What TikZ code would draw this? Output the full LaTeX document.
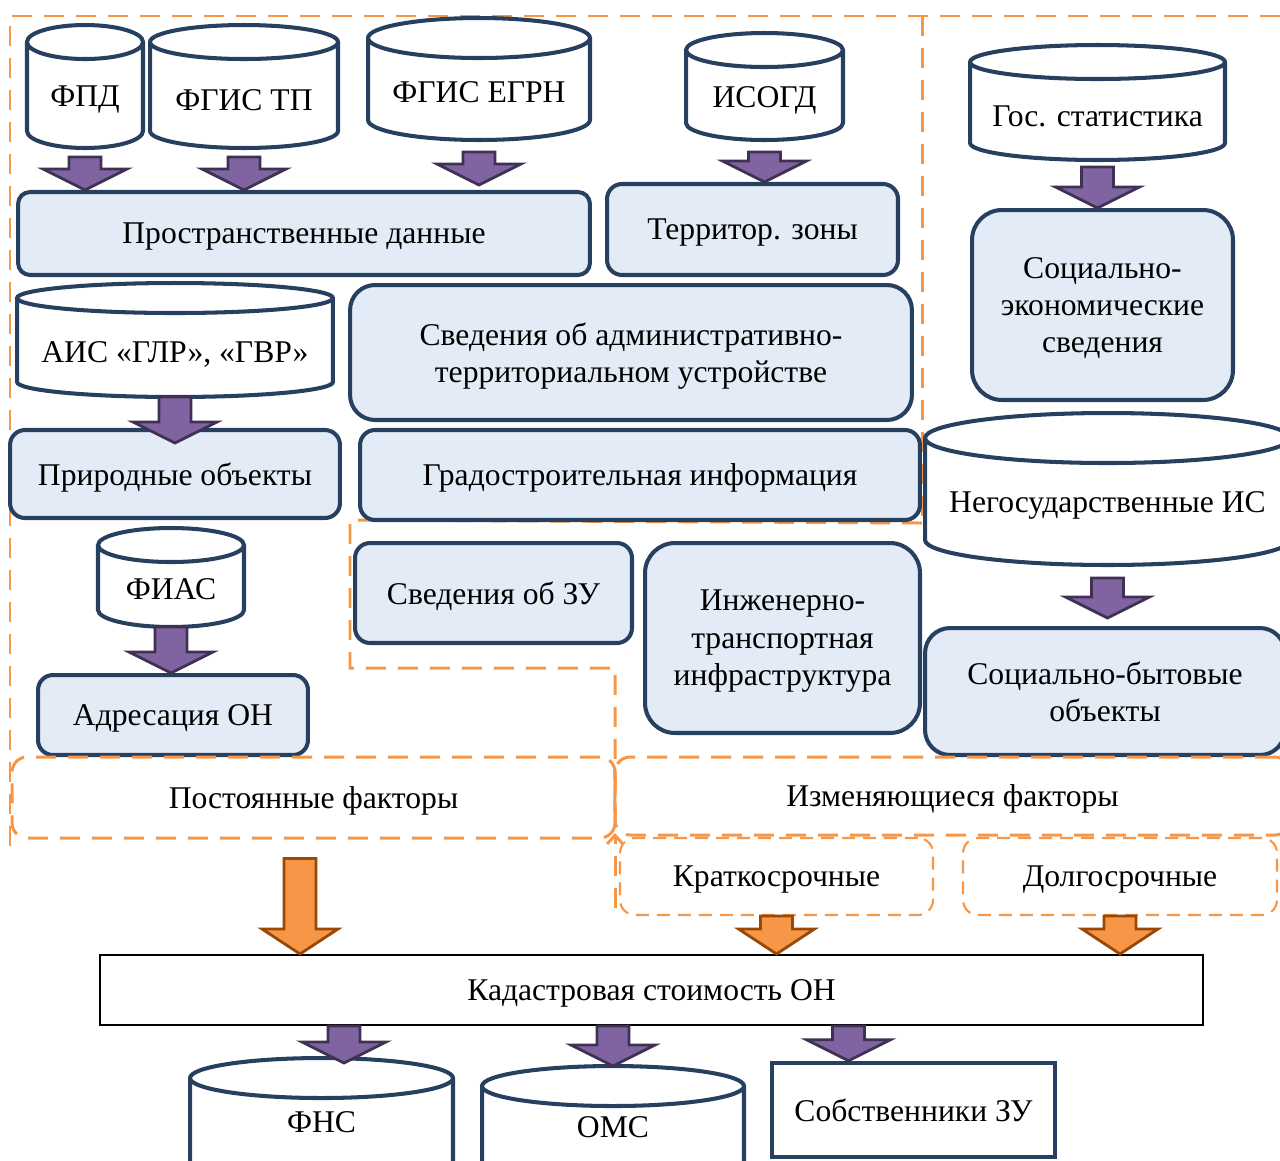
\documentclass[tikz,border=0pt]{standalone}
\usepackage{fontspec}
\setmainfont{Liberation Serif}
\usepackage{tikz}
\usetikzlibrary{arrows.meta,calc}
\definecolor{Navy}{HTML}{27405F}
\definecolor{PaleBlue}{HTML}{E2EBF6}
\definecolor{Amber}{HTML}{F79646}
\definecolor{Rust}{HTML}{984807}
\definecolor{Violet}{HTML}{8064A2}
\definecolor{Plum}{HTML}{3F3151}

\newcommand{\dbase}[8]{%
  \node[dbbox, minimum width=#4, minimum height=#5] (#1) at (#2,#3) {};
  \draw[dbline] ([yshift=-#6]#1.north west) -- ([yshift=#6]#1.south west)
    arc[start angle=180, end angle=360, x radius=#4/2, y radius=#6]
    -- ([yshift=-#6]#1.north east)
    arc[start angle=0, end angle=180, x radius=#4/2, y radius=#6]
    arc[start angle=180, end angle=360, x radius=#4/2, y radius=#6];
  \node[dbtext] (#1-text) at (#2,#7) {#8};
}

\begin{document}
\begin{tikzpicture}[
  x=0.02cm, y=-0.02cm,
  every node/.style={font=\fontsize{18}{21.3}\selectfont},
  infobox/.style={
    draw=Navy,
    line width=2.3pt,
    fill=PaleBlue,
    rounded corners=0.3cm,
    align=center,
    inner sep=0pt,
    text depth=-1.5pt
  },
  factor/.style={
    draw=Amber,
    line width=1.7pt,
    dash pattern=on 0.4cm off 0.24cm,
    rounded corners=0.3cm,
    align=center,
    inner sep=0pt,
    text depth=-1.5pt
  },
  term/.style={
    factor,
    line width=1.2pt,
    dash pattern=on 0.26cm off 0.16cm
  },
  frame/.style={draw=Amber, line width=1.7pt, dash pattern=on 0.4cm off 0.24cm},
  result/.style={draw=black, line width=1.2pt, inner sep=0pt, text depth=-1.5pt},
  owner/.style={draw=Navy, line width=2.6pt, inner sep=0pt, text depth=0pt},
  dbbox/.style={inner sep=0pt, outer sep=0pt},
  dbline/.style={draw=Navy, line width=2.3pt},
  dbtext/.style={inner sep=0pt},
  fatarrow/.style 2 args={
    line width=1.6pt,
    line join=miter,
    to path={let \p1=(\tikztostart), \p2=(\tikztotarget) in
      (\x1-0.32cm,\y1) -- (\x1-0.32cm,\y2+#2) -- (\x1-#1,\y2+#2) -- (\x1,\y2)
      -- (\x1+#1,\y2+#2) -- (\x1+0.32cm,\y2+#2) -- (\x1+0.32cm,\y1) -- cycle}
  },
  purplearrow/.style={fatarrow={0.84cm}{0.42cm}, draw=Plum, fill=Violet},
  orangearrow/.style={fatarrow={0.76cm}{0.5cm}, draw=Rust, fill=Amber}
]
  \useasboundingbox (0,0) rectangle (1280,1160);

  \draw[frame] (1280,16) -- (10,16) -- (10,855);
  \draw[frame] (922,16) -- (922,525);
  \draw[frame] (922,523) -- (350,520) -- (350,668) -- (615,668) -- (615,833);
  \draw[frame, -{Straight Barb[length=5pt,width=9pt]}] (615,908) -- (615,833);

  \dbase{fpd}{85}{86.5}{2.32cm}{2.46cm}{0.34cm}{100}{ФПД}
  \dbase{fgistp}{244}{86.5}{3.76cm}{2.46cm}{0.34cm}{100}{ФГИС ТП}
  \dbase{egrn}{479}{79}{4.44cm}{2.44cm}{0.4cm}{92}{ФГИС ЕГРН}
  \dbase{isogd}{764.5}{86.5}{3.14cm}{2.14cm}{0.34cm}{100}{ИСОГД}
  \dbase{gosstat}{1097.5}{102.5}{5.1cm}{2.3cm}{0.34cm}{116}{Гос. статистика}
  \dbase{ais}{175}{340}{6.32cm}{2.28cm}{0.3cm}{354}{АИС «ГЛР», «ГВР»}
  \dbase{fias}{171}{577.5}{2.92cm}{1.98cm}{0.34cm}{589}{ФИАС}
  \dbase{nongov}{1107.5}{489}{7.3cm}{3.04cm}{0.5cm}{505}{Негосударственные ИС}
  \dbase{fns}{321.5}{1128}{5.26cm}{2.8cm}{0.4cm}{1122}{ФНС}
  \dbase{oms}{613}{1136}{5.24cm}{2.8cm}{0.4cm}{1127}{ОМС}

  \node[infobox, minimum width=11.44cm, minimum height=1.66cm, rounded corners=0.24cm] (spatial) at (304,233.5) {Пространственные данные};
  \node[infobox, minimum width=5.82cm, minimum height=1.82cm] (zones) at (752.5,229.5) {Территор. зоны};
  \node[infobox, minimum width=11.24cm, minimum height=2.7cm, rounded corners=0.5cm] (admin) at (631,352.5) {Сведения об административно-\\территориальном устройстве};
  \node[infobox, minimum width=6.6cm, minimum height=1.76cm] (nature) at (175,474) {Природные объекты};
  \node[infobox, minimum width=11.2cm, minimum height=1.8cm] (urban) at (640,475) {Градостроительная информация};
  \node[infobox, minimum width=5.22cm, minimum height=3.8cm, rounded corners=0.6cm] (socecon) at (1102.5,305) {Социально-\\экономические\\сведения};
  \node[infobox, minimum width=5.54cm, minimum height=2cm] (landinfo) at (493.5,593) {Сведения об ЗУ};
  \node[infobox, minimum width=5.5cm, minimum height=3.8cm, rounded corners=0.6cm] (infra) at (782.5,638) {Инженерно-\\транспортная\\инфраструктура};
  \node[infobox, minimum width=7.2cm, minimum height=2.54cm, rounded corners=0.5cm] (social) at (1105,691.5) {Социально-бытовые\\объекты};
  \node[infobox, minimum width=5.4cm, minimum height=1.6cm] (address) at (173,715) {Адресация ОН};

  \node[factor, minimum width=12.06cm, minimum height=1.62cm] (const) at (313.5,797.5) {Постоянные факторы};
  \node[factor, minimum width=13.5cm, minimum height=1.56cm] (var) at (952.5,796) {Изменяющиеся факторы};
  \node[term, minimum width=6.26cm, minimum height=1.54cm] (short) at (776.5,876.5) {Краткосрочные};
  \node[term, minimum width=6.28cm, minimum height=1.54cm] (long) at (1120,876.5) {Долгосрочные};

  \node[result, minimum width=22.06cm, minimum height=1.4cm] (cadastre) at (651.5,990) {Кадастровая стоимость ОН};
  \node[owner, minimum width=5.66cm, minimum height=1.88cm] (owners) at (913.5,1110) {Собственники ЗУ};

  \draw[purplearrow] ([yshift=-0.18cm]fpd.south) to (fpd.south |- spatial.north);
  \draw[purplearrow] ([yshift=-0.18cm]fgistp.south) to (fgistp.south |- spatial.north);
  \draw[purplearrow] ([yshift=-0.24cm]egrn.south) to ($(egrn.south |- spatial.north)+(0,0.1cm)$);
  \draw[purplearrow] ([yshift=-0.24cm]isogd.south) to (isogd.south |- zones.north);
  \draw[purplearrow] ([yshift=-0.14cm]gosstat.south) to (gosstat.south |- socecon.north);
  \draw[purplearrow] (ais.south) to ($(ais.south |- nature.north)+(0,-0.3cm)$);
  \draw[purplearrow] (fias.south) to (fias.south |- address.north);
  \draw[purplearrow] ([yshift=-0.26cm]nongov.south) to ($(nongov.south |- social.north)+(0,0.16cm)$);
  \draw[purplearrow] ($(cadastre.south -| fns.north)+(0.45cm,0)$) to ($(fns.north)+(0.45cm,-0.1cm)$);
  \draw[purplearrow] (cadastre.south -| oms.north) to (oms.north);
  \draw[purplearrow] ($(cadastre.south -| owners.north)+(-1.3cm,0)$) to ($(owners.north)+(-1.3cm,0)$);

  \draw[orangearrow] ($(const.south)+(-0.27cm,-0.38cm)$) to ($(const.south |- cadastre.north)+(-0.27cm,0)$);
  \draw[orangearrow] (short.south) to (short.south |- cadastre.north);
  \draw[orangearrow] (long.south) to (long.south |- cadastre.north);
\end{tikzpicture}
\end{document}
